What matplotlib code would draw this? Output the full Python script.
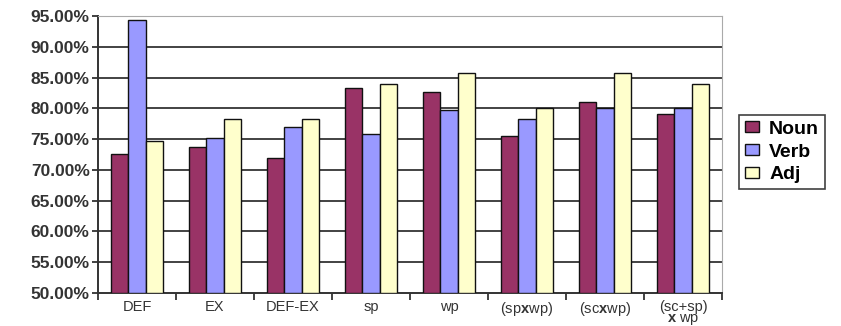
import numpy as np
import matplotlib
matplotlib.use("Agg")
import matplotlib.pyplot as plt

plt.rcParams["font.family"] = ["Liberation Sans", "DejaVu Sans"]
plt.rcParams["mathtext.fontset"] = "custom"
plt.rcParams["mathtext.rm"] = "Liberation Sans"
plt.rcParams["mathtext.bf"] = "Liberation Sans:bold"

categories = ["DEF", "EX", "DEF-EX", "sp", "wp",
              r"(sp$\mathbf{x}$wp)", r"(sc$\mathbf{x}$wp)", "(sc+sp)\n" + r"$\mathbf{x}$ wp"]
noun = [72.6, 73.7, 71.9, 83.3, 82.6, 75.5, 81.1, 79.0]
verb = [94.3, 75.1, 76.9, 75.8, 79.7, 78.3, 80.0, 80.0]
adj = [74.7, 78.3, 78.3, 84.0, 85.8, 80.0, 85.8, 84.0]
series = {"Noun": noun, "Verb": verb, "Adj": adj}
colors = {"Noun": "#993366", "Verb": "#9999FF", "Adj": "#FFFFCC"}

fig = plt.figure(figsize=(8.41, 3.26), dpi=100)
ax = fig.add_axes([98 / 841, 1 - 293 / 326, 624 / 841, 277 / 326])

x = np.arange(len(categories))
w = 0.218
for i, (name, vals) in enumerate(series.items()):
    ax.bar(x + (i - 1) * w, np.array(vals) - 50, bottom=50, width=w,
           color=colors[name], edgecolor="#111111", linewidth=1.0, label=name, zorder=3)

ax.set_xlim(-0.5, len(categories) - 0.5)
ax.set_ylim(50, 95)
yt = np.arange(50, 96, 5)
ax.set_yticks(yt)
ax.set_yticklabels([f"{v:.2f}%" for v in yt], fontsize=12.5, fontweight="bold", color="#333333")
for v in yt[1:]:
    ax.axhline(v, color="#aaaaaa" if v == 95 else "#222222", linewidth=1.2, zorder=1)

ax.set_xticks(x)
ax.set_xticklabels(categories, fontsize=10.5, color="#333333", linespacing=0.72)
ax.tick_params(axis="x", length=0, pad=5)
ax.set_xticks(np.arange(-0.5, len(categories), 1), minor=True)
ax.tick_params(axis="x", which="minor", length=5, width=1.3, direction="out", color="#333333")
ax.tick_params(axis="y", length=4, width=1.3, direction="out", pad=2, color="#333333")

ax.spines["top"].set_color("#aaaaaa")
ax.spines["right"].set_color("#aaaaaa")
ax.spines["left"].set_linewidth(1.4)
ax.spines["bottom"].set_linewidth(1.4)
ax.spines["left"].set_color("#333333")
ax.spines["bottom"].set_color("#333333")

leg = ax.legend(loc="upper left", bbox_to_anchor=(739 / 841, 1 - 115 / 326),
                bbox_transform=fig.transFigure, frameon=True, fancybox=False,
                prop={"weight": "bold", "size": 14}, handlelength=0.75, handleheight=0.5,
                handletextpad=0.5, labelspacing=0.3, borderpad=0.3, borderaxespad=0)
leg.get_frame().set_edgecolor("#111111")
leg.get_frame().set_linewidth(1.2)

fig.savefig("out.png", dpi=100)
